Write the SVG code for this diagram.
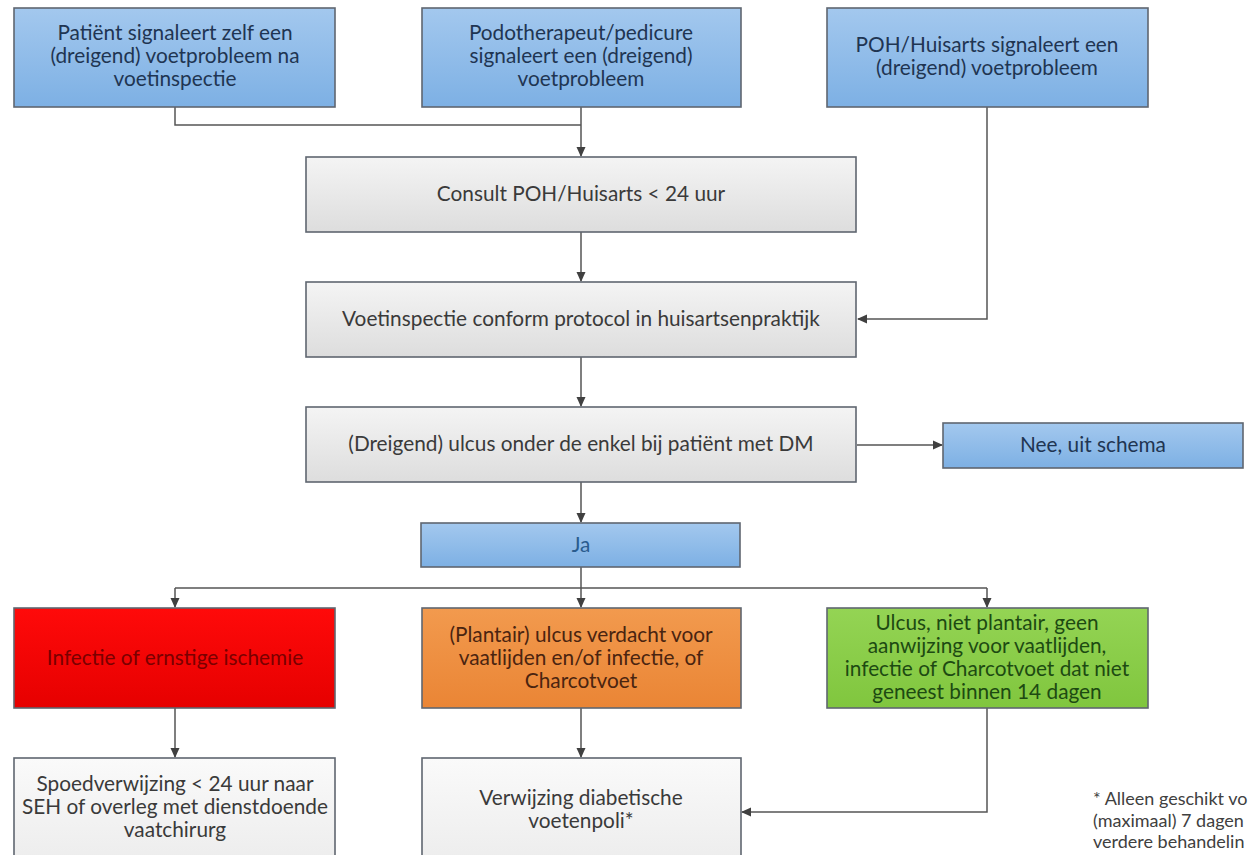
<svg xmlns="http://www.w3.org/2000/svg" width="1250" height="855" viewBox="0 0 1250 855">
<defs>
<linearGradient id="gBlue" x1="0" y1="0" x2="0" y2="1"><stop offset="0" stop-color="#a3c8ee"/><stop offset="1" stop-color="#7db0e4"/></linearGradient>
<linearGradient id="gGray" x1="0" y1="0" x2="0" y2="1"><stop offset="0" stop-color="#f4f4f4"/><stop offset="1" stop-color="#dddddd"/></linearGradient>
<linearGradient id="gWhite" x1="0" y1="0" x2="0" y2="1"><stop offset="0" stop-color="#fafafa"/><stop offset="1" stop-color="#ececec"/></linearGradient>
<linearGradient id="gRed" x1="0" y1="0" x2="0" y2="1"><stop offset="0" stop-color="#ff0a0a"/><stop offset="1" stop-color="#e60000"/></linearGradient>
<linearGradient id="gOrange" x1="0" y1="0" x2="0" y2="1"><stop offset="0" stop-color="#f29a4e"/><stop offset="1" stop-color="#ea8535"/></linearGradient>
<linearGradient id="gGreen" x1="0" y1="0" x2="0" y2="1"><stop offset="0" stop-color="#94d454"/><stop offset="1" stop-color="#80c63e"/></linearGradient>
<marker id="arr" markerWidth="10" markerHeight="10" refX="9" refY="5" orient="auto" markerUnits="userSpaceOnUse">
<path d="M0,0.5 L10,5 L0,9.5 Z" fill="#404040"/>
</marker>
</defs>
<style>
.box{stroke:#5f6670;stroke-width:1.6}
.blue{fill:url(#gBlue)}
.gray{fill:url(#gGray)}
.white{fill:url(#gWhite)}
.red{fill:url(#gRed)}
.orange{fill:url(#gOrange)}
.green{fill:url(#gGreen)}
text{font-family:Lato,"Open Sans","Liberation Sans",sans-serif;font-size:20.8px;text-anchor:middle}
.tb{fill:#1f3552}
.tg{fill:#3a3a3a}
.tr{fill:#7a0000}
.to{fill:#4a2410}
.tgr{fill:#1d4a12}
.tj{fill:#2a5c8e}
.note{text-anchor:start;fill:#404040;font-size:18px}
.con{fill:none;stroke:#555;stroke-width:1.5}
</style>
<rect width="1250" height="855" fill="#ffffff"/>

<g id="connectors">
<path class="con" d="M175,107 V125 H581"/>
<path class="con" d="M581,107 V156" marker-end="url(#arr)"/>
<path class="con" d="M987,107 V319 H858" marker-end="url(#arr)"/>
<path class="con" d="M581,232 V281" marker-end="url(#arr)"/>
<path class="con" d="M581,357 V406" marker-end="url(#arr)"/>
<path class="con" d="M857,445 H942" marker-end="url(#arr)"/>
<path class="con" d="M581,482 V522" marker-end="url(#arr)"/>
<path class="con" d="M581,567 V588"/>
<path class="con" d="M175,588 H987"/>
<path class="con" d="M175,588 V607" marker-end="url(#arr)"/>
<path class="con" d="M581,588 V607" marker-end="url(#arr)"/>
<path class="con" d="M987,588 V607" marker-end="url(#arr)"/>
<path class="con" d="M175,708 V757" marker-end="url(#arr)"/>
<path class="con" d="M581,708 V757" marker-end="url(#arr)"/>
<path class="con" d="M987,708 V812 H742" marker-end="url(#arr)"/>
</g>

<g id="n-patient">
<rect class="box blue" x="14" y="8" width="321" height="99"/>
<text class="tb"><tspan x="175" y="40">Patiënt signaleert zelf een</tspan><tspan x="175" y="63">(dreigend) voetprobleem na</tspan><tspan x="175" y="86">voetinspectie</tspan></text>
</g>

<g id="n-podo">
<rect class="box blue" x="422" y="8" width="319" height="99"/>
<text class="tb"><tspan x="581" y="40">Podotherapeut/pedicure</tspan><tspan x="581" y="63">signaleert een (dreigend)</tspan><tspan x="581" y="86">voetprobleem</tspan></text>
</g>

<g id="n-poh">
<rect class="box blue" x="827" y="8" width="321" height="99"/>
<text class="tb"><tspan x="987" y="52">POH/Huisarts signaleert een</tspan><tspan x="987" y="75">(dreigend) voetprobleem</tspan></text>
</g>

<g id="n-consult">
<rect class="box gray" x="306" y="157" width="550" height="75"/>
<text class="tg" x="581" y="201">Consult POH/Huisarts &lt; 24 uur</text>
</g>

<g id="n-voetinspectie">
<rect class="box gray" x="306" y="282" width="550" height="75"/>
<text class="tg" x="581" y="326">Voetinspectie conform protocol in huisartsenpraktijk</text>
</g>

<g id="n-dreigend">
<rect class="box gray" x="306" y="407" width="550" height="75"/>
<text class="tg" x="581" y="451">(Dreigend) ulcus onder de enkel bij patiënt met DM</text>
</g>

<g id="n-nee">
<rect class="box blue" x="943" y="423" width="300" height="45"/>
<text class="tb" x="1093" y="452">Nee, uit schema</text>
</g>

<g id="n-ja">
<rect class="box blue" x="421" y="523" width="319" height="44"/>
<text class="tj" x="581" y="552">Ja</text>
</g>

<g id="n-infectie">
<rect class="box red" x="14" y="608" width="321" height="100"/>
<text class="tr" x="175" y="665">Infectie of ernstige ischemie</text>
</g>

<g id="n-plantair">
<rect class="box orange" x="422" y="608" width="319" height="100"/>
<text class="to"><tspan x="581" y="642">(Plantair) ulcus verdacht voor</tspan><tspan x="581" y="665">vaatlijden en/of infectie, of</tspan><tspan x="581" y="688">Charcotvoet</tspan></text>
</g>

<g id="n-ulcus">
<rect class="box green" x="827" y="608" width="321" height="100"/>
<text class="tgr"><tspan x="987" y="630">Ulcus, niet plantair, geen</tspan><tspan x="987" y="653">aanwijzing voor vaatlijden,</tspan><tspan x="987" y="676">infectie of Charcotvoet dat niet</tspan><tspan x="987" y="699">geneest binnen 14 dagen</tspan></text>
</g>

<g id="n-spoed">
<rect class="box white" x="14" y="758" width="321" height="110"/>
<text class="tg"><tspan x="175" y="791">Spoedverwijzing &lt; 24 uur naar</tspan><tspan x="175" y="814">SEH of overleg met dienstdoende</tspan><tspan x="175" y="837">vaatchirurg</tspan></text>
</g>

<g id="n-verwijzing">
<rect class="box white" x="422" y="758" width="319" height="110"/>
<text class="tg"><tspan x="581" y="805">Verwijzing diabetische</tspan><tspan x="581" y="828">voetenpoli*</tspan></text>
</g>

<g id="footnote">
<text class="note"><tspan x="1093" y="805">* Alleen geschikt vo</tspan><tspan x="1093" y="827">(maximaal) 7 dagen</tspan><tspan x="1093" y="848">verdere behandelin</tspan></text>
</g>
</svg>
